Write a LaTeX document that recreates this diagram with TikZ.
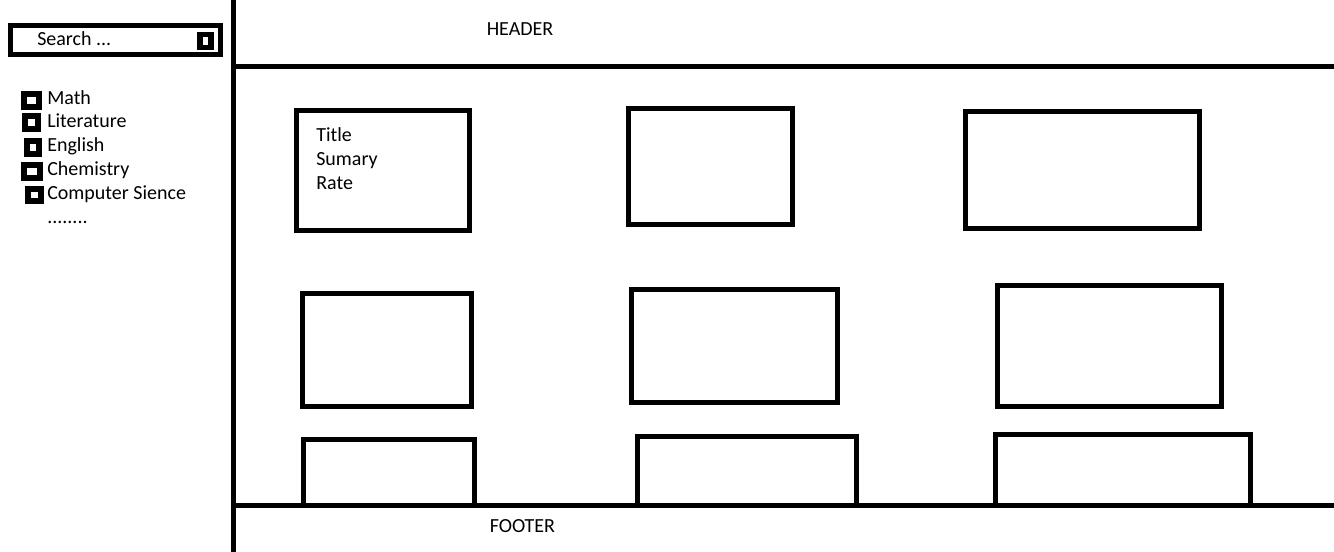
\documentclass[tikz,border=0pt]{standalone}
\usepackage{fontspec}
\setmainfont{Carlito}
\begin{document}
\begin{tikzpicture}[x=0.75pt,y=-0.75pt,
  frame/.style={draw=black, line width=3.75pt, line join=miter},
  card/.style={draw=black, line width=3.75pt, rectangle, inner sep=0pt, outer sep=0pt},
  chk/.style={draw=black, line width=4.5pt, rectangle, inner sep=0pt, minimum height=9.75pt},
  lbl/.style={font=\fontsize{15}{18}\selectfont, anchor=base west, inner sep=0pt}]
\useasboundingbox[fill=white] (0,0) rectangle (1334,552);

% layout lines
\coordinate (vtop) at (233,0);
\coordinate (vbot) at (233,552);
\coordinate (hl) at (233,66.5);
\coordinate (hr) at (1334,66.5);
\coordinate (fl) at (233,505.5);
\coordinate (fr) at (1334,505.5);
\draw[frame] (vtop) -- (vbot);
\draw[frame] (hl) -- (hr);
\draw[frame] (fl) -- (fr);

\node[lbl] (header) at (486.5,35.7) {HEADER};
\node[lbl] (footer) at (489.5,532.5) {FOOTER};

% search box
\node[card, minimum width=157pt, minimum height=21.3pt] (search) at (115.5,40) {};
\node[card, line width=4.1pt, minimum width=8.2pt, minimum height=9.8pt] (sbtn) at (205.3,40.8) {};
\node[lbl] (stext) at (37,46) {Search ...};

% category list
\node[chk, minimum width=11.25pt] (c1) at (31.2,100.5) {};
\node[chk, minimum width=9.75pt] (c2) at (31.7,123) {};
\node[chk, minimum width=9pt] (c3) at (32.6,147.5) {};
\node[chk, minimum width=12pt] (c4) at (32,171.5) {};
\node[chk, minimum width=9.75pt, minimum height=8.5pt] (c5) at (34,195) {};
\node[lbl] (t1) at (47,104.3) {Math};
\node[lbl] (t2) at (47,127.7) {Literature};
\node[lbl] (t3) at (47,151.7) {English};
\node[lbl] (t4) at (47,175.7) {Chemistry};
\node[lbl] (t5) at (47,200) {Computer Sience};
\node[lbl] (t6) at (47,223.3) {........};

% row 1
\node[card, minimum width=129.75pt, minimum height=90pt] (b1) at (382.5,171) {};
\node[card, minimum width=123pt, minimum height=87pt] (b2) at (710,167) {};
\node[card, minimum width=175.5pt, minimum height=87.75pt] (b3) at (1082,170.5) {};
\node[lbl] (b1t1) at (316,141.7) {Title};
\node[lbl] (b1t2) at (316,166) {Sumary};
\node[lbl] (b1t3) at (316,190) {Rate};

% row 2
\node[card, minimum width=126.75pt, minimum height=84.75pt] (b4) at (386.5,349.5) {};
\node[card, minimum width=154.5pt, minimum height=84.75pt] (b5) at (734,345.5) {};
\node[card, minimum width=168pt, minimum height=90.75pt] (b6) at (1109,345.5) {};

% row 3 (open boxes on the footer line)
\draw[frame] (303,505.5) |- (474,439.5) -- (474,505.5);
\draw[frame] (637,505.5) |- (856,436.5) -- (856,505.5);
\draw[frame] (995.5,505.5) |- (1250,434) -- (1250,505.5);
\end{tikzpicture}
\end{document}
